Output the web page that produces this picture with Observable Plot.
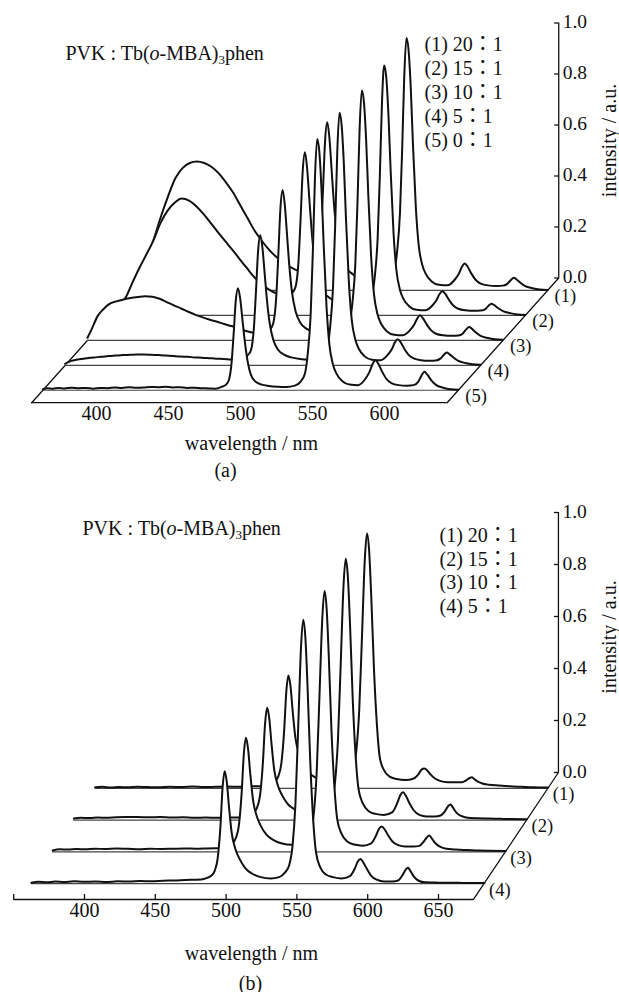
<!DOCTYPE html>
<html><head><meta charset="utf-8">
<script src="https://cdn.jsdelivr.net/npm/d3@7"></script>
<script src="https://cdn.jsdelivr.net/npm/@observablehq/plot@0.6"></script>
<style>
body { margin:0; background:#fff; }
#chart { width:619px; }
#chart svg { display:block; overflow:visible; }
#chart svg, #chart svg text, #chart svg tspan { font-family: "Liberation Serif", "Times New Roman", Tinos, "DejaVu Serif", "Noto Sans CJK TC", serif !important; }
</style></head><body><div id="chart"></div>
<script>
// ---------- Panel (a) data ----------
const wlA = [355,358,362,366,370,375,380,385,390,395,400,405,410,415,420,425,430,435,440,445,450,455,460,465,470,475,479,482,484,486,487.5,489,490.5,492,493.5,495,497,499.5,503,507,512,518,524,530,534,537,539,541,542.5,544,545.5,547,548.5,550,552,554,556.5,559,563,568,574,579,582,584,586,588,590.5,593.5,597,602,608,612.5,615.5,618,620,622,624.5,628,633,638,643.5];
const a1 = [0.01,0.03,0.07,0.13,0.2,0.29,0.37,0.44,0.48,0.5,0.506,0.5,0.485,0.46,0.425,0.385,0.335,0.285,0.235,0.195,0.16,0.132,0.11,0.092,0.078,0.068,0.072,0.082,0.106,0.208,0.389,0.588,0.66,0.598,0.475,0.351,0.226,0.145,0.093,0.069,0.051,0.04,0.034,0.038,0.052,0.08,0.152,0.305,0.55,0.845,0.99,0.94,0.792,0.574,0.327,0.178,0.1,0.064,0.035,0.022,0.02,0.042,0.067,0.093,0.106,0.093,0.067,0.042,0.027,0.02,0.018,0.019,0.026,0.041,0.05,0.043,0.031,0.017,0.009,0.004,0.002];
const a2 = [0.02,0.03,0.045,0.07,0.12,0.18,0.235,0.29,0.36,0.41,0.442,0.458,0.45,0.428,0.398,0.363,0.327,0.292,0.258,0.222,0.187,0.152,0.125,0.103,0.088,0.078,0.082,0.091,0.112,0.209,0.381,0.57,0.64,0.578,0.461,0.343,0.224,0.146,0.095,0.071,0.054,0.043,0.036,0.04,0.054,0.082,0.152,0.303,0.545,0.835,0.98,0.932,0.785,0.57,0.325,0.178,0.1,0.064,0.035,0.022,0.02,0.039,0.061,0.084,0.095,0.084,0.061,0.039,0.026,0.02,0.018,0.019,0.024,0.038,0.046,0.04,0.029,0.017,0.009,0.004,0.002];
const a3 = [0.01,0.045,0.095,0.122,0.142,0.153,0.16,0.166,0.17,0.173,0.171,0.163,0.15,0.137,0.125,0.112,0.1,0.09,0.081,0.073,0.064,0.056,0.046,0.037,0.03,0.026,0.034,0.045,0.067,0.164,0.334,0.52,0.59,0.532,0.419,0.303,0.189,0.114,0.067,0.046,0.034,0.028,0.025,0.03,0.045,0.075,0.148,0.3,0.542,0.835,0.98,0.932,0.785,0.57,0.325,0.178,0.1,0.064,0.035,0.022,0.02,0.04,0.063,0.086,0.098,0.086,0.063,0.04,0.026,0.02,0.018,0.019,0.026,0.043,0.052,0.045,0.032,0.018,0.009,0.004,0.002];
const a4 = [0.006,0.015,0.021,0.025,0.028,0.031,0.033,0.036,0.038,0.04,0.041,0.042,0.042,0.041,0.04,0.038,0.036,0.034,0.033,0.031,0.03,0.028,0.026,0.025,0.023,0.022,0.031,0.041,0.059,0.143,0.29,0.451,0.51,0.46,0.362,0.263,0.165,0.1,0.06,0.042,0.031,0.025,0.023,0.028,0.043,0.073,0.15,0.305,0.548,0.845,0.99,0.94,0.792,0.574,0.327,0.178,0.1,0.064,0.035,0.022,0.02,0.041,0.065,0.09,0.102,0.09,0.065,0.041,0.027,0.02,0.018,0.019,0.026,0.041,0.05,0.043,0.031,0.017,0.009,0.004,0.002];
const a5 = [0.004,0.008,0.006,0.009,0.007,0.01,0.008,0.009,0.006,0.009,0.008,0.011,0.009,0.012,0.01,0.011,0.013,0.012,0.014,0.011,0.012,0.009,0.01,0.008,0.007,0.006,0.013,0.021,0.037,0.104,0.222,0.353,0.4,0.361,0.282,0.203,0.12,0.06,0.032,0.022,0.017,0.014,0.013,0.018,0.034,0.066,0.146,0.3,0.545,0.84,0.985,0.935,0.788,0.572,0.326,0.178,0.1,0.064,0.035,0.022,0.02,0.045,0.074,0.103,0.118,0.103,0.074,0.045,0.028,0.02,0.018,0.02,0.032,0.058,0.072,0.061,0.041,0.021,0.01,0.004,0.002];
const seriesA = [a1, a2, a3, a4, a5];
const depthA = [4.5, 3.5, 2.5, 1.5, 0.5];
const sliceLabelsA = ["(1)", "(2)", "(3)", "(4)", "(5)"];
const legendA = ["(1) 20：1", "(2) 15：1", "(3) 10：1", "(4) 5：1", "(5) 0：1"];
const xTickLabelsA = [400, 450, 500, 550, 600];

// ---------- Panel (b) data ----------
const wlB = [355,360,366,372,378,385,392,400,408,416,424,432,440,448,456,464,470,475,479,482,484.5,486.5,488.5,490,491.5,493,494.5,496.5,499,502,506,511,517,524,530,534,537,539.5,541.5,543.5,545.5,547,548.5,550,552,554,556,559,563,568,574,580,583.5,585.5,587.5,589.5,592,595,599,604,610,614,617,619.5,621,622.5,625,628.5,633,640,648,656,664,675];
const b1 = [0.004,0.006,0.003,0.005,0.004,0.006,0.005,0.004,0.006,0.005,0.007,0.005,0.006,0.007,0.006,0.008,0.008,0.009,0.018,0.027,0.048,0.095,0.222,0.37,0.434,0.392,0.298,0.192,0.133,0.095,0.061,0.04,0.027,0.023,0.03,0.049,0.074,0.146,0.3,0.59,0.885,0.98,0.915,0.74,0.45,0.245,0.12,0.07,0.045,0.036,0.032,0.038,0.056,0.072,0.076,0.069,0.053,0.038,0.028,0.024,0.024,0.024,0.031,0.04,0.043,0.037,0.027,0.019,0.014,0.011,0.008,0.006,0.004,0.003];
const b2 = [0.006,0.009,0.008,0.01,0.009,0.011,0.012,0.012,0.011,0.012,0.01,0.011,0.009,0.01,0.009,0.01,0.01,0.011,0.02,0.029,0.05,0.096,0.222,0.369,0.432,0.39,0.298,0.193,0.134,0.096,0.062,0.041,0.028,0.023,0.028,0.047,0.074,0.15,0.31,0.61,0.91,1.005,0.935,0.755,0.455,0.245,0.12,0.065,0.035,0.024,0.02,0.031,0.067,0.096,0.107,0.093,0.065,0.038,0.02,0.014,0.014,0.018,0.034,0.055,0.06,0.05,0.03,0.016,0.009,0.007,0.006,0.005,0.004,0.003];
const b3 = [0.005,0.01,0.009,0.011,0.01,0.012,0.011,0.013,0.012,0.01,0.012,0.011,0.012,0.013,0.012,0.013,0.014,0.015,0.023,0.032,0.055,0.101,0.228,0.375,0.439,0.397,0.305,0.2,0.14,0.1,0.066,0.045,0.032,0.027,0.032,0.05,0.077,0.15,0.31,0.61,0.905,1.003,0.935,0.755,0.455,0.25,0.125,0.07,0.04,0.028,0.024,0.033,0.064,0.089,0.098,0.086,0.063,0.04,0.026,0.021,0.021,0.023,0.039,0.057,0.063,0.054,0.035,0.02,0.012,0.009,0.007,0.005,0.004,0.003];
const b4 = [0.003,0.007,0.005,0.008,0.006,0.009,0.007,0.008,0.006,0.009,0.008,0.01,0.009,0.011,0.012,0.014,0.015,0.016,0.022,0.03,0.05,0.095,0.22,0.368,0.432,0.39,0.298,0.193,0.134,0.095,0.06,0.038,0.025,0.02,0.025,0.042,0.07,0.15,0.31,0.615,0.92,1.015,0.945,0.76,0.46,0.245,0.12,0.062,0.035,0.025,0.02,0.029,0.059,0.085,0.095,0.08,0.056,0.03,0.015,0.008,0.008,0.012,0.032,0.055,0.061,0.05,0.028,0.011,0.005,0.004,0.003,0.003,0.002,0.002];
const seriesB = [b1, b2, b3, b4];
const depthB = [3.5, 2.5, 1.5, 0.5];
const sliceLabelsB = ["(1)", "(2)", "(3)", "(4)"];
const legendB = ["(1) 20：1", "(2) 15：1", "(3) 10：1", "(4) 5：1"];
const xTickLabelsB = [400, 450, 500, 550, 600, 650];
const xTickMarksB = [350, 400, 450, 500, 550, 600, 650];

// ---------- shared text ----------
const yTicks = [0, 0.2, 0.4, 0.6, 0.8, 1.0];
const titleText = "PVK : Tb(o-MBA)3phen";
const xLabel = "wavelength / nm";
const yLabel = "intensity / a.u.";

const FONT = "Liberation Serif, Times New Roman, Tinos, DejaVu Serif, Noto Sans CJK TC, serif";

function panel(series, wl, depth, sliceLabels, legend, xTickLabels, xTickMarks, caption, g) {
  const W = 619;
  const sx = d3.scaleLinear([400, 600], g.xRange);
  const sy = d3.scaleLinear([0, 1], g.yRange);
  const yFront = -g.zy * g.zMax;
  const backX = g.hi + g.zx * g.zMax;
  const axisPx = sx(backX);
  const frontPx = sy(yFront);
  const marks = [];
  // floor edges
  marks.push(Plot.line([[g.hi, yFront], [backX, 0]], {stroke: "#111", strokeWidth: 1.3}));
  if (g.leftEdge) marks.push(Plot.line([[g.lo, yFront], [g.lo + g.zx * g.zMax, 0]], {stroke: "#111", strokeWidth: 1.3}));
  // back axis
  marks.push(Plot.ruleX([backX], {y1: 0, y2: 1, stroke: "#111", strokeWidth: 1.3}));
  marks.push(Plot.ruleY(yTicks, {y: d => d, x1: backX - 4 / g.pxPerNm, x2: backX, stroke: "#111", strokeWidth: 1.3}));
  marks.push(Plot.axisY(yTicks, {anchor: "right", tickSize: 0, tickPadding: 4, dy: -1, tickFormat: d => d.toFixed(1), label: null, fontSize: 19.5, fontFamily: FONT}));
  // slices back to front
  series.forEach((vals, i) => {
    const z = depth[i];
    const base = -g.zy * (g.zMax - z);
    const rows = wl.map((w, j) => ({X: w + g.zx * z, Y: vals[j] + base}));
    marks.push(Plot.areaY(rows, {x: "X", y1: base, y2: "Y", fill: "white", fillOpacity: 1, curve: "monotone-x"}));
    marks.push(Plot.ruleY([base], {x1: g.lo + g.zx * z, x2: g.hi + g.zx * z, stroke: "#444", strokeWidth: 1.2}));
    marks.push(Plot.line(rows, {x: "X", y: "Y", stroke: "#111", strokeWidth: 2, curve: "monotone-x"}));
  });
  // slice labels
  marks.push(Plot.text(sliceLabels, {x: (d, i) => g.hi + g.zx * depth[i], y: (d, i) => -g.zy * (g.zMax - depth[i]), dx: g.labDx, dy: 6, textAnchor: "start", fontSize: 18.5, fontFamily: FONT, fill: "#111"}));
  // front axis
  marks.push(Plot.ruleY([yFront], {x1: g.axisLo, x2: g.hi, stroke: "#111", strokeWidth: 1.3}));
  marks.push(Plot.ruleX(xTickMarks, {x: d => d, y1: yFront, y2: yFront + 5 / g.pxPerUnit, stroke: "#111", strokeWidth: 1.3}));
  marks.push(Plot.axisX(xTickLabels, {anchor: "bottom", tickSize: 0, tickPadding: 3, label: null, fontSize: 20, fontFamily: FONT}));
  // texts
  marks.push(Plot.text([titleText], {frameAnchor: "top-left", dx: g.title[0], dy: g.title[1], textAnchor: "start", lineAnchor: "middle", fontSize: 20, fontFamily: FONT, fill: "#111"}));
  marks.push(Plot.text([legend.join("\n")], {frameAnchor: "top-left", dx: g.legend[0], dy: g.legend[1], textAnchor: "start", lineAnchor: "middle", lineHeight: g.legendLH, fontSize: 20, fontFamily: FONT, fill: "#111"}));
  marks.push(Plot.text([yLabel], {frameAnchor: "top-left", dx: g.ylab[0], dy: g.ylab[1], rotate: -90, textAnchor: "middle", lineAnchor: "middle", fontSize: 20, fontFamily: FONT, fill: "#111"}));
  marks.push(Plot.text([xLabel], {frameAnchor: "top-left", dx: g.xlab[0], dy: g.xlab[1], textAnchor: "middle", lineAnchor: "middle", fontSize: 20, fontFamily: FONT, fill: "#111"}));
  marks.push(Plot.text([caption], {frameAnchor: "top-left", dx: g.cap[0], dy: g.cap[1], textAnchor: "middle", lineAnchor: "middle", fontSize: 20, fontFamily: FONT, fill: "#111"}));

  const svg = Plot.plot({
    width: W, height: g.height,
    marginTop: 0, marginLeft: 0,
    marginRight: W - axisPx, marginBottom: g.height - frontPx,
    x: {domain: [400, 600], range: g.xRange},
    y: {domain: [0, 1], range: g.yRange},
    style: {fontFamily: FONT, fontSize: "20px", background: "white", color: "#111", overflow: "visible"},
    marks
  });
  // rich formatting of the title (italic o, subscript 3)
  d3.select(svg).selectAll("text").filter(function() { return this.textContent === titleText; })
    .each(function() {
      const t = d3.select(this);
      t.text(null);
      t.append("tspan").text("PVK : Tb(");
      t.append("tspan").attr("font-style", "italic").text("o");
      t.append("tspan").text("-MBA)");
      t.append("tspan").attr("font-size", "13px").attr("dy", "4").text("3");
      t.append("tspan").attr("dy", "-4").text("phen");
    });
  return svg;
}

const geomA = {height: 490, xRange: [96, 384], yRange: [277.5, 22.5], pxPerNm: 1.44, pxPerUnit: 255,
  zx: 15.5, zy: 0.0978, zMax: 5, lo: 355, hi: 643.5, axisLo: 355, leftEdge: true, labDx: 7,
  title: [65, 53], legend: [424, 91.3], legendLH: 1.2, ylab: [609, 140], xlab: [251, 443], cap: [225, 470]};
const geomB = {height: 502, xRange: [84, 367.2], yRange: [282, 22], pxPerNm: 1.416, pxPerUnit: 260,
  zx: 15, zy: 0.1221, zMax: 4, lo: 355, hi: 674.7, axisLo: 350, leftEdge: false, labDx: 5,
  title: [82, 38], legend: [439, 79.3], legendLH: 1.175, ylab: [609, 146.5], xlab: [251, 463], cap: [250, 493]};

const root = document.getElementById("chart");
root.appendChild(panel(seriesA, wlA, depthA, sliceLabelsA, legendA, xTickLabelsA, [], "(a)", geomA));
root.appendChild(panel(seriesB, wlB, depthB, sliceLabelsB, legendB, xTickLabelsB, xTickMarksB, "(b)", geomB));
</script></body></html>
